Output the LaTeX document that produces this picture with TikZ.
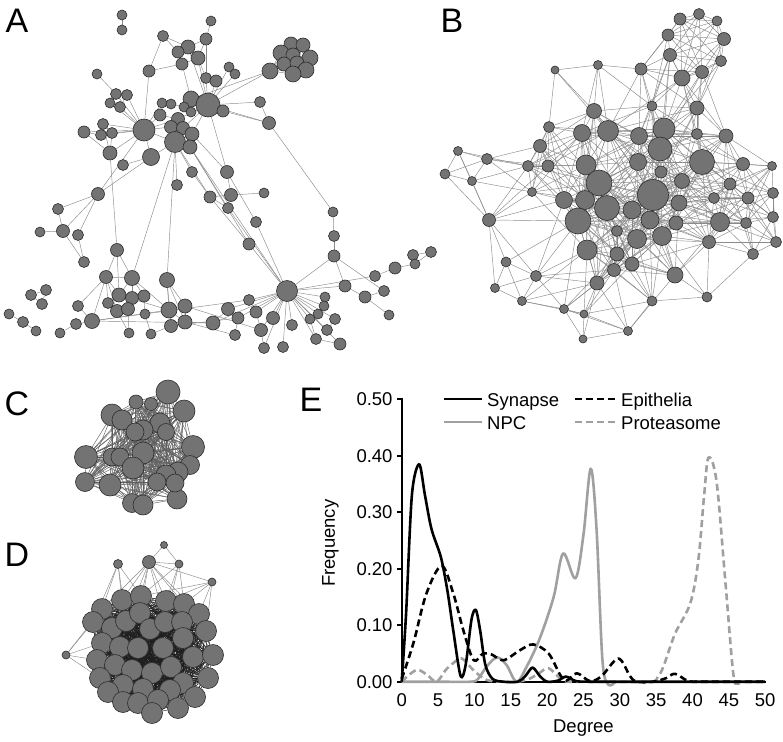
\documentclass[tikz,border=0pt]{standalone}
\usepackage{fontspec}
\setmainfont{Liberation Sans}
\usepackage{xcolor}
\usetikzlibrary{backgrounds}

\definecolor{nodefill}{RGB}{115,115,115}
\definecolor{nodeline}{RGB}{45,45,45}
\definecolor{linkgray}{RGB}{138,138,138}
\definecolor{meshgray}{RGB}{95,95,95}
\definecolor{meshdark}{RGB}{30,30,30}
\definecolor{curvegray}{RGB}{160,160,160}

% node lists: x/y/radius, in pixels of the figure
\newcommand{\anodes}{122/15/5, 122/30/5, 211/21/5, 163/36/5.5, 206/39/6, 188/47/7, 178/52/6, 198/58/7, 182/64/6, 149/71/6, 97/74/5, 229/67/5, 235/74/5, 206/78/5.5, 216/81/6, 270/71/8, 291/44/7, 303/45/7, 281/53/8, 293/55/7, 310/58/8, 284/64/7, 297/63/7, 306/70/8, 293/74/8, 116/94/5.5, 127/95/5.5, 110/103/5, 120/107/5.5, 191/99/8, 208/105/12, 223/111/6, 162/103/5, 171/104/5, 184/107/5, 191/112/5, 160/115/6, 260/102/5.5, 269/123/6.5, 144/130/11, 178/119/6.5, 171/127/6.5, 183/128/6.5, 192/134/7, 175/142/10.5, 190/147/7, 103/124/5.5, 84/132/6, 101/135/5.5, 112/133/5.5, 110/153/7, 151/157/8.5, 123/165/5.5, 192/172/5.5, 227/172/6.5, 177/185/5.5, 210/197/6, 231/195/6.5, 264/193/5, 228/208/5.5, 98/194/6.5, 58/209/5.5, 40/232/5, 63/231/6.5, 78/235/5.5, 256/222/5.5, 249/244/6, 333/212/5, 334/236/5.5, 334/256/6, 117/250/6.5, 84/262/5.5, 106/277/6.5, 132/278/7.5, 167/280/7.5, 287/291/10.5, 413/255/5.5, 431/252/5.5, 415/264/5, 395/268/6, 375/276/5.5, 384/291/5.5, 365/297/6, 389/315/5, 345/286/6, 31/295/5.5, 46/290/5.5, 42/304/5.5, 9/314/5, 23/322/5.5, 36/331/5, 78/306/5.5, 76/324/5.5, 60/333/5, 92/321/7.5, 119/295/7, 132/298/6.5, 144/296/6, 108/303/5.5, 117/311/6.5, 128/309/6.5, 145/314/5, 169/310/8, 185/306/7, 185/322/7, 171/326/6.5, 213/323/7, 228/309/6.5, 238/318/6, 249/300/5.5, 256/312/6, 273/318/6.5, 261/330/6.5, 235/335/5.5, 292/325/5.5, 129/333/5, 151/334/5, 325/297/5, 324/306/5, 318/314/5, 310/319/5, 335/319/5.5, 327/330/5.5, 316/339/5.5, 340/344/6, 264/348/5.5, 283/347/5.5}

\newcommand{\alinks}{1/2, 3/5, 4/6, 4/7, 4/10, 5/6, 5/8, 5/14, 6/7, 6/8, 7/9, 8/9, 8/14, 9/10, 6/31, 8/31, 9/30, 10/40, 11/26, 12/13, 12/31, 13/31, 14/15, 14/31, 15/31, 16/31, 16/30, 26/27, 26/28, 27/29, 28/29, 26/40, 27/40, 29/40, 28/40, 30/31, 30/35, 31/32, 31/36, 30/36, 31/41, 31/43, 31/44, 31/38, 31/39, 32/39, 31/55, 38/39, 33/34, 33/37, 34/35, 35/36, 37/40, 33/40, 37/41, 40/41, 40/42, 40/45, 40/47, 40/48, 40/49, 40/50, 40/51, 40/52, 41/42, 41/43, 42/43, 42/45, 43/44, 44/45, 44/46, 45/46, 43/46, 45/52, 41/45, 48/49, 49/50, 47/50, 47/51, 50/51, 48/51, 51/71, 52/53, 52/61, 45/54, 45/56, 45/75, 45/74, 45/57, 44/55, 46/60, 46/67, 46/76, 54/57, 55/58, 57/58, 58/59, 58/60, 57/60, 60/76, 57/67, 66/76, 67/76, 55/66, 39/68, 68/69, 69/70, 70/76, 70/85, 70/82, 61/62, 61/64, 61/65, 61/40, 62/64, 63/64, 64/72, 65/72, 71/73, 71/74, 71/96, 73/74, 73/92, 73/95, 73/96, 73/99, 73/100, 74/96, 74/97, 74/98, 74/103, 75/103, 75/104, 75/105, 75/106, 76/81, 81/80, 80/79, 79/77, 77/78, 79/78, 76/85, 85/83, 83/84, 83/82, 76/110, 76/111, 76/112, 76/113, 76/108, 76/107, 76/118, 76/119, 76/120, 76/121, 76/122, 76/123, 76/124, 76/125, 76/126, 76/127, 76/115, 76/109, 95/107, 95/103, 95/110, 92/95, 93/95, 93/94, 86/87, 87/88, 86/88, 89/90, 90/91, 96/97, 96/99, 97/98, 99/100, 100/101, 101/97, 98/102, 97/100, 101/116, 103/104, 103/105, 103/106, 104/105, 105/107, 106/109, 107/108, 108/109, 110/111, 111/113, 113/126, 114/109, 117/106, 116/100, 123/122, 118/119, 119/120, 120/121, 124/125, 121/124, 102/117, 104/113, 105/114, 96/103}

\newcommand{\bnodes}{680/19/6, 699/14/5.5, 717/21/5, 668/35/6, 724/39/6.5, 670/55/6.5, 721/61/5.5, 702/72/6.5, 682/78/8, 641/69/6, 598/65/4.5, 555/70/4, 652/106/5, 697/108/7, 594/111/7.5, 549/127/5.5, 582/133/8.5, 608/131/10.5, 639/136/8.5, 664/129/11, 697/134/5.5, 726/136/7, 540/146/6.5, 660/149/12, 458/151/4.5, 487/159/5.5, 445/174/5, 472/181/4.5, 528/166/5.5, 548/166/6, 586/165/10, 638/162/8.5, 702/162/12.5, 743/164/6.5, 772/166/4.5, 661/172/6, 682/181/7.5, 599/183/13, 730/184/6, 532/192/4.5, 653/195/15.5, 773/193/5.5, 564/200/8.5, 585/200/9.5, 607/208/12.5, 679/203/8, 714/198/5.5, 748/198/6, 632/210/9, 578/221/13, 650/220/9, 676/223/7, 720/222/9.5, 746/223/5.5, 773/217/5.5, 489/220/6.5, 617/231/5.5, 637/239/9.5, 662/236/9.5, 709/242/6.5, 776/242/5.5, 753/254/5.5, 587/250/10, 617/254/7, 614/270/6.5, 632/264/7, 675/275/8, 506/262/5, 536/276/5.5, 495/288/4.5, 522/301/4.5, 597/283/7, 564/309/4.5, 584/314/4, 583/339/4, 628/331/4.5, 652/301/5, 707/297/5}

\newcommand{\cnodes}{168/392/12, 136/402/7, 151/404/6.5, 184/411/11, 112/415/11, 122/420/10, 160/423/10, 143/430/10, 166/432/8.5, 135/432/9, 193/447/11.5, 143/453/11, 86/457/11.5, 112/457/9, 120/457/9, 190/465/9.5, 133/468/11, 178/472/10, 166/475/10, 110/485/11, 85/482/9.5, 132/503/9.5, 143/505/10, 177/499/10, 157/482/9, 175/483/9}

\newcommand{\dnodes}{122/600, 141/596, 166/601, 184/604, 102/609, 199/614, 93/622, 112/628, 126/621, 140/613, 150/629, 165/622, 182/622, 206/631, 102/643, 120/647, 138/648, 163/648, 183/638, 193/657, 213/655, 97/660, 115/665, 132/670, 152/673, 171/667, 100/678, 123/685, 143/689, 183/683, 208/678, 108/692, 170/690, 195/697, 123/702, 138/703, 158/700, 178/708, 152/713}

\begin{document}
\begin{tikzpicture}[
  x=1pt, y=-1pt,
  nd/.style={circle, draw=nodeline, fill=nodefill, line width=0.6pt, inner sep=0pt, minimum size=2*#1pt},
  lnk/.style={draw=linkgray, line width=0.45pt},
  panel/.style={font=\fontsize{34}{36}\selectfont, inner sep=0pt},
  tick/.style={font=\fontsize{18.5}{20}\selectfont, inner sep=1pt},
  axis/.style={line width=2.4pt, line cap=rect},
  crv/.style={line width=2.6pt, line join=round},
  dsh/.style={crv, dash pattern=on 7pt off 4pt},
]
\useasboundingbox (0,0) rectangle (783,741);

% panel letters
\node[panel] (labA) at (17,21) {A};
\node[panel] (labB) at (452,21) {B};
\node[panel] (labC) at (17,404) {C};
\node[panel] (labD) at (17,555) {D};
\node[panel] (labE) at (311,400) {E};

% A
\foreach \x/\y/\r [count=\i] in \anodes
  \node[nd=\r] (a\i) at (\x,\y) {};
\begin{pgfonlayer}{background}
  \foreach \u/\v in \alinks
    \draw[lnk] (a\u) -- (a\v);
  \foreach \i in {16,...,25}
    \foreach \j in {16,...,25}
      {\ifnum\i<\j \draw[lnk] (a\i) -- (a\j); \fi}
\end{pgfonlayer}

% B
\foreach \x/\y/\r [count=\i] in \bnodes
  \node[nd=\r] (b\i) at (\x,\y) {};
\begin{pgfonlayer}{background}
  \foreach \xa/\ya/\ra [count=\i] in \bnodes {
    \foreach \xb/\yb/\rb [count=\j] in \bnodes {
      \ifnum\j>\i
        \pgfmathtruncatemacro\ok{and(veclen(\xb-\xa,\yb-\ya) < 45+2.8*(\ra+\rb), mod(\i*7+\j*3,5)!=0)}
        \ifnum\ok=1 \draw[lnk] (b\i) -- (b\j); \fi
      \fi
    }
  }
\end{pgfonlayer}

% C
\foreach \x/\y/\r [count=\i] in \cnodes
  \node[nd=\r] (c\i) at (\x,\y) {};
\begin{pgfonlayer}{background}
  \foreach \i in {1,...,26}
    \foreach \j in {1,...,26}
      {\ifnum\i<\j \draw[lnk, draw=meshgray] (c\i) -- (c\j); \fi}
\end{pgfonlayer}

% D
\foreach \x/\y [count=\i] in \dnodes
  \node[nd=10.5] (db\i) at (\x,\y) {};
\foreach \x/\y/\r [count=\i] in {164/545/3.5, 118/564/4.5, 149/562/6.5, 179/564/4, 212/582/4, 66/655/4}
  \node[nd=\r] (ds\i) at (\x,\y) {};
\begin{pgfonlayer}{background}
  \foreach \i in {1,...,39}
    \foreach \j in {1,...,39}
      {\ifnum\i<\j \draw[lnk, draw=meshdark] (db\i) -- (db\j); \fi}
  \foreach \u/\v in {1/3, 1/4, 3/4, 3/5}
    \draw[lnk] (ds\u) -- (ds\v);
  \foreach \u/\v in {2/1, 2/2, 2/5, 2/7, 2/9, 3/1, 3/2, 3/3, 3/4, 3/5, 3/6, 3/9, 3/10, 3/12, 4/2, 4/3, 4/4, 4/12, 5/2, 5/3, 5/4, 5/6, 5/14, 6/5, 6/7, 6/15, 6/22, 6/27}
    \draw[lnk] (ds\u) -- (db\v);
\end{pgfonlayer}

% E
\draw[crv] (444,399) -- (482,399);
\node[tick, anchor=base west] (legsyn) at (486,406.5) {Synapse};
\draw[dsh] (575,399) -- (615,399);
\node[tick, anchor=base west] (legepi) at (620,406.5) {Epithelia};
\draw[crv, curvegray] (444,422) -- (482,422);
\node[tick, anchor=base west] (legnpc) at (486,429.5) {NPC};
\draw[dsh, curvegray] (575,422) -- (615,422);
\node[tick, anchor=base west] (legpro) at (620,429.5) {Proteasome};

\begin{scope}[shift={(401.7,681.7)}, x=7.27pt, y=565pt]
  \draw[axis] (0,0.5) -- (0,0) -- (50,0);
  \foreach \v/\t [count=\k] in {0/0.00, 0.1/0.10, 0.2/0.20, 0.3/0.30, 0.4/0.40, 0.5/0.50} {
    \draw[line width=1.6pt] (0,\v) -- ++(-5pt,0);
    \node[tick, anchor=east] (yl\k) at ([xshift=-8pt]0,\v) {\t};
  }
  \foreach \d [count=\k] in {0,5,...,50}
    \node[tick, anchor=north] (xl\k) at ([yshift=-11pt]\d,0) {\d};
  \node[tick] (xtitle) at (25,-0.082) {Degree};
  \node[tick, rotate=90] (ytitle) at (-9.8,0.245) {Frequency};

  \draw[dsh, curvegray] plot[smooth, tension=0.55] coordinates {(0,0) (1,0.012) (2.2,0.021) (3.5,0.012) (4.8,0) (6,0.02) (7.1,0.033) (8.3,0.041) (9.9,0.02) (11.7,0.003) (14,0) (16,0) (17.7,0.006) (19,0.016) (20.2,0.024) (21.8,0.006) (23,0) (28,0) (34.2,0) (35.2,0.008) (36,0.027) (37.6,0.085) (39.7,0.139) (40.8,0.215) (41.6,0.33) (42.2,0.397) (43.3,0.355) (44.5,0.18) (45.6,0.015) (46.2,-0.003) (47,0)};
  \draw[crv, curvegray] plot[smooth, tension=0.55] coordinates {(0,0) (5,0) (9.5,0) (10.5,0.005) (11.7,0.027) (13.1,0.043) (14.4,0.03) (15.8,0) (17.2,0.027) (19,0.077) (20.9,0.15) (22.2,0.227) (23.9,0.183) (25,0.26) (26,0.377) (26.8,0.27) (27.6,0.04) (28.4,-0.005) (29.4,0)};
  \draw[dsh] plot[smooth, tension=0.55] coordinates {(0,0.005) (1.6,0.068) (3.4,0.156) (5.5,0.205) (7.1,0.156) (8.5,0.09) (9.9,0.038) (11.2,0.05) (12.4,0.048) (14,0.038) (16.3,0.056) (18.1,0.066) (20.2,0.05) (21.8,0.012) (22.7,0.002) (24.1,0.015) (25.9,0.001) (27.5,0.01) (29.8,0.041) (31.4,0.01) (32.3,0) (34.6,0) (36.3,0.006) (37.6,0.014) (39.4,0.001) (41,0) (45,0) (50,0)};
  \draw[crv] plot[smooth, tension=0.5] coordinates {(0,0) (0.6,0.12) (1.4,0.33) (2.4,0.385) (3.2,0.33) (4.1,0.27) (5.4,0.22) (6.3,0.16) (7.1,0.09) (8.1,0.01) (8.8,0.03) (9.6,0.11) (10.2,0.127) (10.8,0.09) (11.5,0.03) (12.5,0.005) (14,0) (16,0) (17,0.01) (18,0.025) (19,0.01) (20,0) (21.5,0.002) (22.6,0.009) (24,0.001) (26,0) (30,0) (40,0) (50,0)};
\end{scope}
\end{tikzpicture}
\end{document}
